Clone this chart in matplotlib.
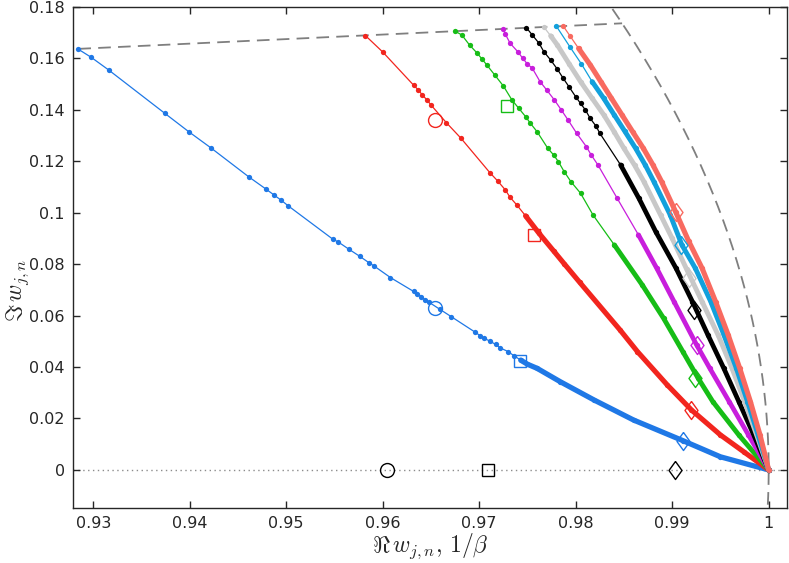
import numpy as np
import matplotlib
matplotlib.use("Agg")
import matplotlib.pyplot as plt
from matplotlib.ticker import FixedLocator, FixedFormatter

plt.rcParams['mathtext.fontset'] = 'cm'
plt.rcParams['font.family'] = ['DejaVu Sans']

# ---------------- data ----------------
blue_x = [0.9284, 0.9298, 0.9316, 0.9374, 0.9399, 0.9422, 0.9461, 0.9479, 0.9487, 0.9495,
          0.9502, 0.9548, 0.9554, 0.9565, 0.9576, 0.9586, 0.9591, 0.9608, 0.9632, 0.9636,
          0.9640, 0.9644, 0.9648, 0.9659, 0.9671, 0.9696, 0.9701, 0.9705, 0.9711, 0.9717,
          0.9722, 0.9730, 0.9736, 0.9743, 0.9750, 0.9760, 0.9784, 0.9819, 0.9860, 0.9911,
          0.9950, 1.0]
blue_y = [0.1637, 0.1604, 0.1555, 0.1387, 0.1315, 0.1252, 0.1140, 0.1092, 0.1070, 0.1048,
          0.1027, 0.0898, 0.0886, 0.0858, 0.0831, 0.0805, 0.0793, 0.0748, 0.0694, 0.0685,
          0.0674, 0.0661, 0.0652, 0.0625, 0.0596, 0.0535, 0.0522, 0.0512, 0.0501, 0.0488,
          0.0474, 0.0460, 0.0444, 0.0427, 0.0411, 0.0395, 0.0343, 0.0272, 0.0194, 0.0114,
          0.0051, 0.0]

red_x = [0.9582, 0.9600, 0.9632, 0.9637, 0.9641, 0.9646, 0.9650, 0.9666, 0.9681, 0.9711,
         0.9719, 0.9727, 0.9732, 0.9739, 0.9748, 0.9762, 0.9777, 0.9788, 0.9804, 0.9846,
         0.9864, 0.9895, 0.9920, 0.9950, 0.9974, 1.0]
red_y = [0.1689, 0.1625, 0.1496, 0.1477, 0.1458, 0.1438, 0.1419, 0.1350, 0.1290, 0.1156,
         0.1124, 0.1089, 0.1060, 0.1030, 0.0988, 0.0920, 0.0852, 0.0802, 0.0730, 0.0544,
         0.0460, 0.0330, 0.0233, 0.0136, 0.0071, 0.0]

green_x = [0.9675, 0.9682, 0.9690, 0.9698, 0.9703, 0.9708, 0.9716, 0.9725, 0.9734, 0.9741,
           0.9748, 0.9753, 0.9760, 0.9771, 0.9777, 0.9782, 0.9788, 0.9795, 0.9805, 0.9818,
           0.9840, 0.9869, 0.9891, 0.9911, 0.9927, 0.9942, 0.9969, 1.0]
green_y = [0.1706, 0.1691, 0.1652, 0.1620, 0.1597, 0.1574, 0.1536, 0.1493, 0.1438, 0.1406,
           0.1374, 0.1348, 0.1315, 0.1251, 0.1225, 0.1199, 0.1160, 0.1121, 0.1076, 0.0991,
           0.0875, 0.0719, 0.0590, 0.0460, 0.0356, 0.0266, 0.0136, 0.0]

magenta_x = [0.9725, 0.9727, 0.9732, 0.9740, 0.9745, 0.9750, 0.9755, 0.9763, 0.9770, 0.9778,
             0.9785, 0.9792, 0.9801, 0.9811, 0.9816, 0.9823, 0.9843, 0.9865, 0.9884, 0.9902,
             0.99253, 0.9939, 0.9959, 0.9979, 1.0]
magenta_y = [0.1715, 0.1695, 0.1659, 0.1626, 0.1601, 0.1578, 0.1562, 0.1510, 0.1477, 0.1438,
             0.1400, 0.1361, 0.1309, 0.1257, 0.1225, 0.1186, 0.1056, 0.0914, 0.0784, 0.0654,
             0.0486, 0.0395, 0.0266, 0.0136, 0.0]

black_x = [0.9749, 0.9755, 0.9762, 0.9767, 0.9774, 0.9781, 0.9787, 0.9793, 0.9800, 0.9805,
           0.9810, 0.9815, 0.9821, 0.9825, 0.98465, 0.98655, 0.9883, 0.9904, 0.9921, 0.9937,
           0.99535, 0.9969, 0.99845, 1.0]
black_y = [0.1719, 0.1691, 0.1659, 0.1626, 0.1594, 0.1558, 0.1523, 0.1490, 0.1451, 0.1425,
           0.1400, 0.1367, 0.1337, 0.1309, 0.1186, 0.1056, 0.0926, 0.0784, 0.0654, 0.0525,
           0.0395, 0.0266, 0.0136, 0.0]

gray_x = [0.9767, 0.9774, 0.9781, 0.9793, 0.9805, 0.9817, 0.98292, 0.9840, 0.98499, 0.9861,
          0.98707, 0.9888, 0.9900, 0.9915, 0.9931, 0.99475, 0.9962, 0.9975, 0.99875, 1.0]
gray_y = [0.1722, 0.1688, 0.1652, 0.1580, 0.1510, 0.1445, 0.1380, 0.1314, 0.1251, 0.1185,
          0.1121, 0.0991, 0.0900, 0.0780, 0.0654, 0.0525, 0.0395, 0.0266, 0.0136, 0.0]

cyan_x = [0.9780, 0.9794, 0.9806, 0.9817, 0.9829, 0.9840, 0.9851, 0.9862, 0.9872, 0.9881,
          0.9898, 0.9910, 0.9924, 0.9940, 0.99536, 0.99665, 0.9978, 0.9989, 1.0]
cyan_y = [0.1725, 0.1645, 0.1578, 0.1510, 0.1445, 0.1380, 0.1316, 0.1251, 0.1186, 0.1121,
          0.0991, 0.0875, 0.0784, 0.0654, 0.0525, 0.0395, 0.0266, 0.0136, 0.0]

salmon_x = [0.9787, 0.9794, 0.9803, 0.9815, 0.9826, 0.9837, 0.9848, 0.9859, 0.9870, 0.9880,
            0.9889, 0.99035, 0.9917, 0.9931, 0.9945, 0.9958, 0.9970, 0.9981, 0.9991, 1.0]
salmon_y = [0.1726, 0.1688, 0.1639, 0.1575, 0.1510, 0.1445, 0.1380, 0.1315, 0.1251, 0.1186,
            0.1121, 0.1004, 0.0890, 0.0784, 0.0654, 0.0525, 0.0395, 0.0266, 0.0136, 0.0]

# special markers
circle_x = [0.9654, 0.9654, 0.9604]
circle_y = [0.0629, 0.1361, 0.0]
square_x = [0.9742, 0.9757, 0.9729, 0.9709]
square_y = [0.0425, 0.0912, 0.1415, 0.0]
diamond_x = [0.9911, 0.9920, 0.9924, 0.99253, 0.99225, 0.9917, 0.9909, 0.99035, 0.9903]
diamond_y = [0.0114, 0.0233, 0.0358, 0.0486, 0.0622, 0.0745, 0.0873, 0.1004, 0.0]

boundary_angle_deg = 10.0

x_ticks = [0.93, 0.94, 0.95, 0.96, 0.97, 0.98, 0.99, 1.0]
x_tick_labels = ['0.93', '0.94', '0.95', '0.96', '0.97', '0.98', '0.99', '1']
y_ticks = [0, 0.02, 0.04, 0.06, 0.08, 0.10, 0.12, 0.14, 0.16, 0.18]
y_tick_labels = ['0', '0.02', '0.04', '0.06', '0.08', '0.1', '0.12', '0.14', '0.16', '0.18']

# ---------------- style ----------------
C_BLUE = '#1f78e6'
C_RED = '#f2251e'
C_GREEN = '#16bd16'
C_MAG = '#c81edc'
C_BLACK = '#000000'
C_GRAY = '#c8c8c8'
C_CYAN = '#12a0dc'
C_SALMON = '#f86a60'

# (x, y, colour, index where points become dense, width of dense band)
curves = [
    (blue_x, blue_y, C_BLUE, 33, 3.8),
    (red_x, red_y, C_RED, 14, 3.7),
    (green_x, green_y, C_GREEN, 20, 3.5),
    (magenta_x, magenta_y, C_MAG, 17, 3.4),
    (black_x, black_y, C_BLACK, 14, 3.4),
    (gray_x, gray_y, C_GRAY, 1, 3.5),
    (cyan_x, cyan_y, C_CYAN, 3, 3.5),
    (salmon_x, salmon_y, C_SALMON, 2, 3.7),
]

fig = plt.figure(figsize=(7.89, 5.63), dpi=100)
ax = fig.add_axes([0.0925, 0.0977, 0.905, 0.8899])

XMIN, XMAX = 0.9279, 1.0019
YMIN, YMAX = -0.0148, 0.18

# zero line
ax.plot([XMIN, XMAX], [0, 0], linestyle=(0, (1, 2.5)), color='#8c8c8c', lw=1.0, zorder=1)

# boundary: ray at the given angle and the unit circle
th = np.deg2rad(boundary_angle_deg)
ax.plot([0.9, np.cos(th)], [0.9 * np.tan(th), np.sin(th)], color='#7f7f7f', lw=1.3,
        dashes=(7, 4), zorder=1)
phi = np.linspace(-0.05, 0.25, 400)
ax.plot(np.cos(phi), np.sin(phi), color='#7f7f7f', lw=1.3, dashes=(7, 4), zorder=1)

z = 2
for xs, ys, col, dense, lwt in curves:
    ax.plot(xs, ys, '-', color=col, lw=0.9, zorder=z)
    ax.plot(xs[dense:], ys[dense:], '-', color=col, lw=lwt, solid_capstyle='round',
            solid_joinstyle='round', zorder=z)
    ax.plot(xs, ys, 'o', color=col, ms=3.8, mew=0, zorder=z)
    z += 1

diamond_colors = [C_BLUE, C_RED, C_GREEN, C_MAG, C_BLACK, C_GRAY, C_CYAN, C_SALMON, C_BLACK]
circle_colors = [C_BLUE, C_RED, C_BLACK]
square_colors = [C_BLUE, C_RED, C_GREEN, C_BLACK]
dmarker = [(0, 1), (0.72, 0), (0, -1), (-0.72, 0), (0, 1)]
for x, y, c in zip(circle_x, circle_y, circle_colors):
    ax.plot(x, y, 'o', ms=10, mfc='none', mec=c, mew=1.0, zorder=20)
for x, y, c in zip(square_x, square_y, square_colors):
    ax.plot(x, y, 's', ms=8.5, mfc='none', mec=c, mew=1.0, zorder=20)
for x, y, c in zip(diamond_x, diamond_y, diamond_colors):
    ax.plot(x, y, marker=dmarker, ms=13, mfc='none', mec=c, mew=1.0, zorder=20)

ax.set_xlim(XMIN, XMAX)
ax.set_ylim(YMIN, YMAX)
ax.xaxis.set_major_locator(FixedLocator(x_ticks))
ax.xaxis.set_major_formatter(FixedFormatter(x_tick_labels))
ax.yaxis.set_major_locator(FixedLocator(y_ticks))
ax.yaxis.set_major_formatter(FixedFormatter(y_tick_labels))
ax.tick_params(direction='in', top=True, right=True, length=5, width=1.0,
               colors='#262626', labelsize=11.5, pad=6)
for s in ax.spines.values():
    s.set_color('#262626')
    s.set_linewidth(1.0)

ax.set_xlabel(r'$\Re\, w_{j,n},\, 1/\beta$', fontsize=17, color='#262626')
ax.xaxis.set_label_coords(0.5, -0.046)
ax.set_ylabel(r'$\Im\, w_{j,n}$', fontsize=17, color='#262626')
ax.yaxis.set_label_coords(-0.059, 0.435)

fig.savefig('out.png', dpi=100)
